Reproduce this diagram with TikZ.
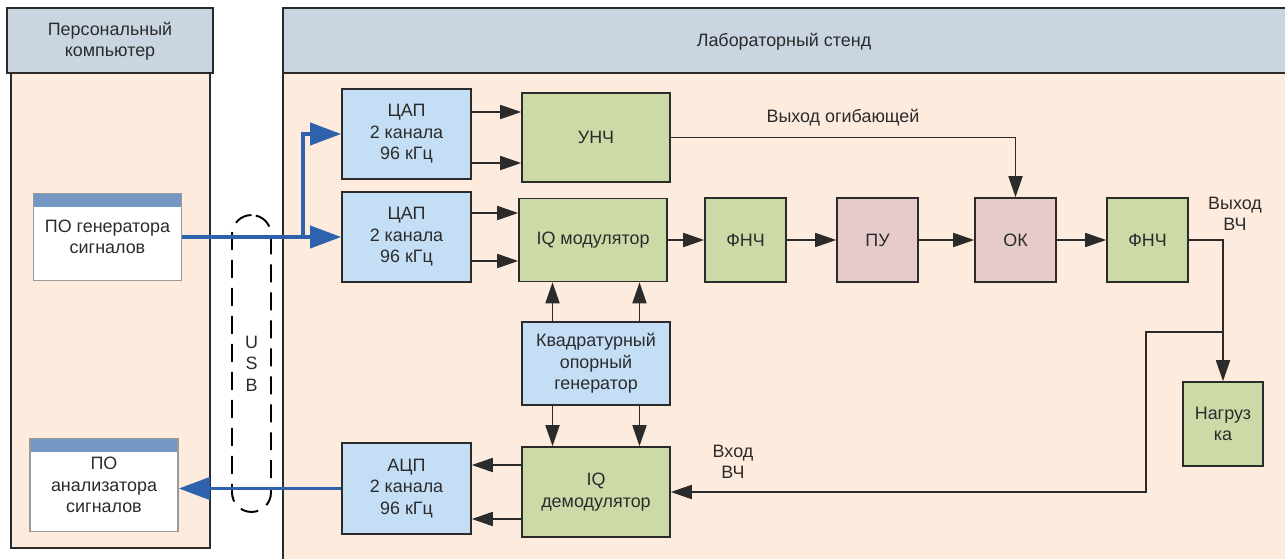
\documentclass[tikz,border=0pt]{standalone}
\usepackage{fontspec}
\setmainfont{Liberation Sans}
\usetikzlibrary{arrows.meta, positioning, calc}
\definecolor{labhead}{HTML}{CAD5E2}
\definecolor{labbg}{HTML}{FDEBDD}
\definecolor{labdac}{HTML}{C4DEF6}
\definecolor{labgreen}{HTML}{CCDAA8}
\definecolor{labpink}{HTML}{E7CBCB}
\definecolor{labbar}{HTML}{7597C4}
\definecolor{labedge}{HTML}{9A9A9A}
\definecolor{labusb}{HTML}{2E62AD}
\definecolor{labink}{HTML}{2B2B2B}

\begin{document}
\begin{tikzpicture}[x=0.02cm, y=-0.02cm,
        font=\fontsize{10.2}{12.2}\selectfont,
        panel/.style={draw=labink, line width=1.1pt},
        box/.style={draw=labink, line width=0.9pt, align=center, text=labink, inner sep=2pt},
        dacbox/.style={box, fill=labdac, minimum width=2.58cm, minimum height=1.8cm},
        widebox/.style={box, minimum width=2.96cm, minimum height=1.66cm},
        smallbox/.style={box, minimum width=1.62cm, minimum height=1.68cm},
        swbox/.style={box, draw=labedge, fill=white, minimum width=2.96cm,
            path picture={\fill[labbar] (path picture bounding box.north west) rectangle ([yshift=-0.27cm]path picture bounding box.north east);}},
        tag/.style={align=center, text=labink, inner sep=1pt},
        arrow/.style={-{Triangle[length=0.42cm, width=0.28cm]}, line width=1pt, labink},
        usbarrow/.style={-{Triangle[length=0.62cm, width=0.44cm]}, line width=2.2pt, labusb}
    ]
        \useasboundingbox (0,0) rectangle (1285,558);
        \clip (0,0) rectangle (1285,558);

        % panels
        \filldraw [panel, fill=labbg] (11,73) rectangle (210,548);
        \filldraw [panel, fill=labhead] (7,8) rectangle (213,73);
        \filldraw [panel, fill=labbg] (283,73) rectangle (1300,575);
        \filldraw [panel, fill=labhead] (283,8) rectangle (1300,73);
        \node (pchead) [tag] at (110,41) {Персональный\\компьютер};
        \node (standhead) [tag] at (784,42) {Лабораторный стенд};

        % computer side
        \node (gensw) [swbox, minimum height=1.74cm] at (107.5,237) {ПО генератора\\сигналов};
        \node (answ) [swbox, minimum height=1.86cm] at (104,485) {ПО\\анализатора\\сигналов};
        \node (usb) [draw=black, line width=1.1pt, dash pattern=on 0.36cm off 0.2cm, rounded corners=0.39cm,
            minimum width=0.78cm, minimum height=5.94cm, align=center, text=labink, inner sep=0pt] at (251.5,363.5) {U\\S\\B};

        % stand
        \node (dactop) [dacbox] at (406.5,134) {ЦАП\\2 канала\\96 кГц};
        \node (dacbot) [dacbox] at (406.5,237) {ЦАП\\2 канала\\96 кГц};
        \node (unch) [widebox, fill=labgreen, minimum height=1.78cm] at (596,137.5) {УНЧ};
        \node (iqmod) [widebox, fill=labgreen] at (593,240) {IQ модулятор};
        \node (lpfa) [smallbox, fill=labgreen] at (745.5,240) {ФНЧ};
        \node (amp) [smallbox, fill=labpink] at (877.5,240) {ПУ};
        \node (ok) [smallbox, fill=labpink] at (1015.5,240) {ОК};
        \node (lpfb) [smallbox, fill=labgreen] at (1147.5,240) {ФНЧ};
        \node (load) [smallbox, fill=labgreen, minimum width=1.6cm] at (1223,424) {Нагруз\\ка};
        \node (quad) [widebox, fill=labdac] at (596,363.5) {Квадратурный\\опорный\\генератор};
        \node (iqdem) [widebox, fill=labgreen, minimum height=1.8cm] at (596,492) {IQ\\демодулятор};
        \node (adc) [dacbox, minimum height=1.82cm] at (406.5,488.5) {АЦП\\2 канала\\96 кГц};

        \node (envtag) [tag] at (843,118) {Выход огибающей};
        \node (rfout) [tag] at (1235,214) {Выход\\ВЧ};
        \node (rfin) [tag] at (733,462) {Вход\\ВЧ};

        \draw [arrow] ([yshift=0.51cm]unch.west -| dactop.east) -- ([yshift=0.51cm]unch.west);
        \draw [arrow] ([yshift=-0.51cm]unch.west -| dactop.east) -- ([yshift=-0.51cm]unch.west);
        \draw [arrow] ([yshift=0.48cm]dacbot.east) -- ([yshift=0.48cm]dacbot.east -| iqmod.west);
        \draw [arrow] ([yshift=-0.48cm]dacbot.east) -- ([yshift=-0.48cm]dacbot.east -| iqmod.west);

        \draw [arrow] (iqmod) -- (lpfa);
        \draw [arrow] (lpfa) -- (amp);
        \draw [arrow] (amp) -- (ok);
        \draw [arrow] (ok) -- (lpfb);
        \draw [arrow] (unch.east) -| (ok.north);
        \draw [arrow] (lpfb.east) -| (load.north);

        \coordinate (tap) at (load.north |- 0,332);
        \coordinate (bend) at (1146,492);
        \draw [arrow] (tap) -| (bend) -- (iqdem.east);

        \draw [arrow] ([xshift=-0.87cm]quad.north) -- ([xshift=-0.87cm]quad.north |- iqmod.south);
        \draw [arrow] ([xshift=0.87cm]quad.north) -- ([xshift=0.87cm]quad.north |- iqmod.south);
        \draw [arrow] ([xshift=-0.87cm]quad.south) -- ([xshift=-0.87cm]quad.south |- iqdem.north);
        \draw [arrow] ([xshift=0.87cm]quad.south) -- ([xshift=0.87cm]quad.south |- iqdem.north);
        \draw [arrow] ([yshift=0.54cm]iqdem.west) -- ([yshift=0.54cm]iqdem.west -| adc.east);
        \draw [arrow] ([yshift=-0.54cm]iqdem.west) -- ([yshift=-0.54cm]iqdem.west -| adc.east);

        % usb links
        \coordinate (split) at (303,237);
        \draw [usbarrow] (gensw.east |- dacbot.west) -- (dacbot.west);
        \draw [usbarrow] (split) |- (dactop.west);
        \draw [usbarrow] (adc.west) -- (adc.west -| answ.east);
    \end{tikzpicture}
\end{document}
